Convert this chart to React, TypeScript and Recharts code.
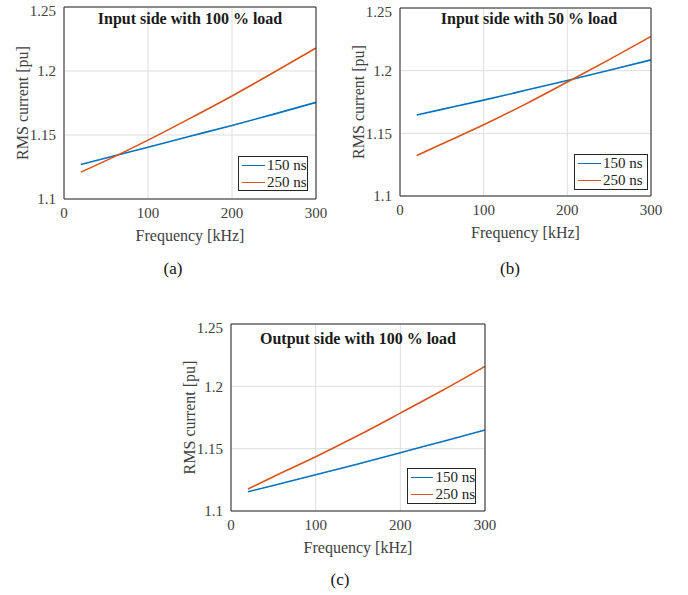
import { LineChart, Line, XAxis, YAxis, CartesianGrid } from 'recharts'

const freq = [20, 50, 100, 150, 200, 250, 300]
const xTicks = [0, 100, 200, 300]
const yTicks = [1.1, 1.15, 1.2, 1.25]
const seriesNames = ['150 ns', '250 ns']
const seriesColors = ['#0072BD', '#D95319']

// (a) input side, 100 % load
const inFull150 = [1.127, 1.132, 1.1405, 1.149, 1.1575, 1.1663, 1.1755]
const inFull250 = [1.121, 1.130, 1.146, 1.163, 1.1805, 1.199, 1.218]
// (b) input side, 50 % load
const inHalf150 = [1.1647, 1.1691, 1.1765, 1.1843, 1.1922, 1.2003, 1.2086]
const inHalf250 = [1.1323, 1.1415, 1.1568, 1.1733, 1.191, 1.2088, 1.2273]
// (c) output side, 100 % load
const outFull150 = [1.1154, 1.1205, 1.129, 1.1377, 1.1468, 1.1558, 1.1649]
const outFull250 = [1.1176, 1.1275, 1.1435, 1.1605, 1.1785, 1.1968, 1.216]

const FONT = '"Liberation Serif", "Times New Roman", serif'
const AXIS = '#262626'
const TEXT = '#404040'

const panels = [
  {
    title: 'Input side with 100 % load', caption: '(a)',
    s150: inFull150, s250: inFull250,
    plot: { x: 64, y: 7, w: 252, h: 192 },
    legend: { x: 238, y: 156, w: 70, h: 35 },
    titleAt: { x: 190, y: 19 }, captionAt: { x: 173, y: 269 },
  },
  {
    title: 'Input side with 50 % load', caption: '(b)',
    s150: inHalf150, s250: inHalf250,
    plot: { x: 400, y: 8, w: 251, h: 188 },
    legend: { x: 574, y: 154, w: 74, h: 36 },
    titleAt: { x: 529, y: 19 }, captionAt: { x: 510, y: 269 },
  },
  {
    title: 'Output side with 100 % load', caption: '(c)',
    s150: outFull150, s250: outFull250,
    plot: { x: 231, y: 324, w: 254, h: 187 },
    legend: { x: 407, y: 468, w: 69, h: 36 },
    titleAt: { x: 358, y: 339 }, captionAt: { x: 340, y: 580 },
  },
]

function Panel({ p }: { p: any }) {
  const YW = 50, XH = 45, ML = 12, MT = 4, MR = 19, MB = 5
  const left = p.plot.x - YW - ML
  const top = p.plot.y - MT - 1
  const width = ML + YW + p.plot.w + 1 + MR
  const height = MT + 1 + p.plot.h + XH + MB
  const data = freq.map((f, i) => ({ freq: f, ns150: p.s150[i], ns250: p.s250[i] }))
  const tick = { fontSize: 15, fill: TEXT, fontFamily: FONT }

  return (
    <>
      <div style={{ position: 'absolute', left, top, width, height }}>
        <LineChart width={width} height={height} data={data}
          margin={{ top: MT, right: MR, bottom: MB, left: ML }}>
          <CartesianGrid stroke="#dedede" strokeWidth={1} />
          <XAxis dataKey="freq" type="number" domain={[0, 300]} ticks={xTicks}
            height={XH} tickLine={false} stroke={AXIS} tick={tick}
            label={{ value: 'Frequency [kHz]', position: 'insideBottom', offset: 3,
              style: { fontSize: 16, fill: TEXT, fontFamily: FONT } }} />
          <YAxis type="number" domain={[1.1, 1.25]} ticks={yTicks} width={YW}
            tickLine={false} stroke={AXIS} tick={tick}
            label={{ value: 'RMS current [pu]', angle: -90, position: 'insideLeft', offset: 8,
              style: { textAnchor: 'middle', fontSize: 16, fill: TEXT, fontFamily: FONT } }} />
          <XAxis xAxisId="top" orientation="top" type="number" domain={[0, 300]}
            height={1} tick={false} tickLine={false} stroke={AXIS} />
          <YAxis yAxisId="right" orientation="right" type="number" domain={[1.1, 1.25]}
            width={1} tick={false} tickLine={false} stroke={AXIS} />
          <Line dataKey="ns150" name={seriesNames[0]} type="monotone" stroke={seriesColors[0]}
            strokeWidth={1.6} dot={false} isAnimationActive={false} />
          <Line dataKey="ns250" name={seriesNames[1]} type="monotone" stroke={seriesColors[1]}
            strokeWidth={1.6} dot={false} isAnimationActive={false} />
        </LineChart>
      </div>

      <div style={{
        position: 'absolute', left: p.titleAt.x, top: p.titleAt.y - 10,
        transform: 'translateX(-50%)', whiteSpace: 'nowrap',
        fontWeight: 'bold', fontSize: 16, color: '#1a1a1a', lineHeight: '20px',
      }}>{p.title}</div>

      <div style={{
        position: 'absolute', left: p.legend.x, top: p.legend.y,
        width: p.legend.w, height: p.legend.h, boxSizing: 'border-box',
        border: `1px solid ${AXIS}`, background: '#fff',
        display: 'flex', flexDirection: 'column', justifyContent: 'center',
      }}>
        {seriesNames.map((name, i) => (
          <div key={name} style={{ display: 'flex', alignItems: 'center', height: 17 }}>
            <span style={{ display: 'inline-block', width: 23, marginLeft: 3,
              borderTop: `1.6px solid ${seriesColors[i]}` }} />
            <span style={{ marginLeft: 2, fontSize: 15, color: '#222', whiteSpace: 'nowrap' }}>{name}</span>
          </div>
        ))}
      </div>

      <div style={{
        position: 'absolute', left: p.captionAt.x, top: p.captionAt.y - 10,
        transform: 'translateX(-50%)', fontSize: 17, lineHeight: '20px', color: '#111',
      }}>{p.caption}</div>
    </>
  )
}

export default function App() {
  return (
    <div style={{ position: 'absolute', left: 0, top: 0, width: 688, height: 595,
      background: '#fff', fontFamily: FONT, overflow: 'hidden' }}>
      <style>{`svg text { font-family: "Liberation Serif", "Times New Roman", serif !important; }`}</style>
      {panels.map(p => <Panel key={p.caption} p={p} />)}
    </div>
  )
}
